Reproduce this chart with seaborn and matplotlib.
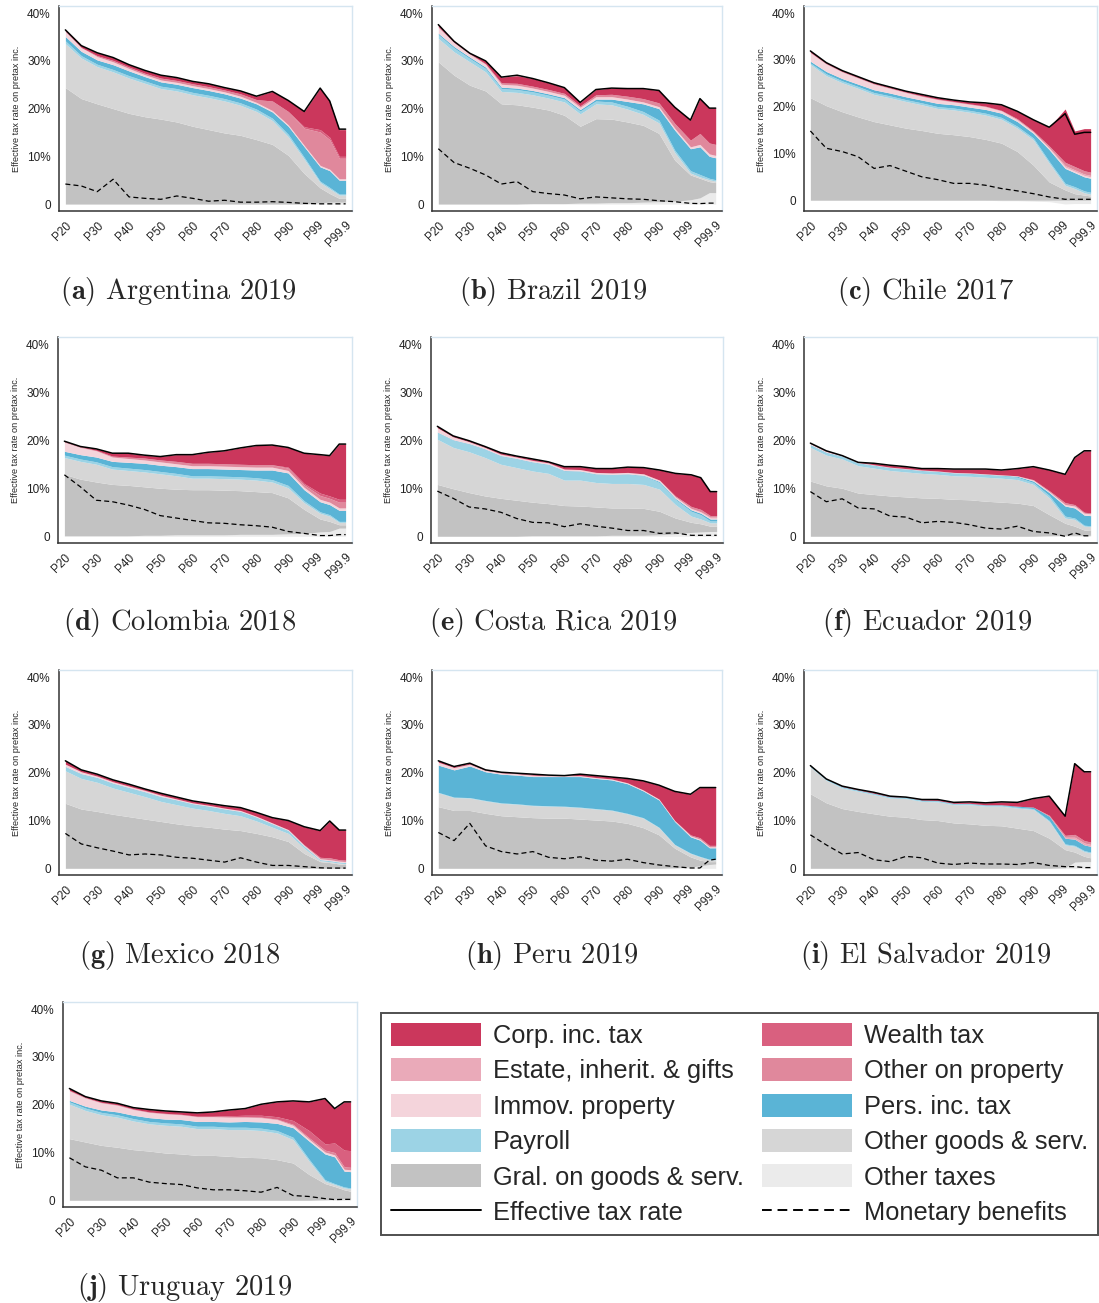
import matplotlib
matplotlib.use("Agg")
import matplotlib.pyplot as plt
import numpy as np
import seaborn as sns
from matplotlib.patches import Patch
from matplotlib.lines import Line2D

# percentile groups: P20..P95 by 5, then the top 1% split in finer groups
X = [20, 25, 30, 35, 40, 45, 50, 55, 60, 65, 70, 75, 80, 85, 90, 95, 100, 103, 106, 108]
TICK_POS = [20, 30, 40, 50, 60, 70, 80, 90, 99, 108]
TICK_LAB = ["P20", "P30", "P40", "P50", "P60", "P70", "P80", "P90", "P99", "P99.9"]

# stacking order, bottom to top
LAYERS = ["oth", "gral", "ogs", "pay", "pit", "immov", "estate", "oprop", "wealth", "cit"]
LABELS = {
    "cit": "Corp. inc. tax", "wealth": "Wealth tax",
    "estate": "Estate, inherit. & gifts", "oprop": "Other on property",
    "immov": "Immov. property", "pit": "Pers. inc. tax",
    "pay": "Payroll", "ogs": "Other goods & serv.",
    "gral": "Gral. on goods & serv.", "oth": "Other taxes",
}
COLORS = {
    "cit": "#CB375C", "wealth": "#D9607F", "estate": "#EAAAB9", "oprop": "#E0889C",
    "immov": "#F4D4DB", "pit": "#5AB4D6", "pay": "#9CD3E5", "ogs": "#D6D6D6",
    "gral": "#C2C2C2", "oth": "#EBEBEB",
}

Z = [0.0] * 20

argentina = dict(
    oth=[0] * 16 + [0.3, 0.4, 0.4, 0.4],
    gral=[24.4, 22.1, 21.0, 20.0, 19.0, 18.3, 17.8, 17.2, 16.3, 15.6, 14.9, 14.4, 13.5, 12.5, 10.2, 6.4, 3.1, 1.8, 0.8, 0.8],
    ogs=[9.2, 8.5, 7.8, 7.7, 7.4, 7.0, 6.4, 6.5, 6.6, 6.7, 6.7, 6.3, 5.9, 5.0, 3.9, 3.0, 1.1, 1.0, 0.7, 0.7],
    pay=[0.6, 0.5, 0.5, 0.5, 0.5, 0.5, 0.5, 0.5, 0.5, 0.5, 0.5, 0.5, 0.5, 0.5, 0.5, 0.4, 0.3, 0.3, 0.2, 0.2],
    pit=[0.9, 0.9, 0.9, 1.0, 1.0, 0.9, 0.9, 0.9, 1.0, 1.0, 1.0, 1.0, 1.1, 1.3, 1.7, 2.2, 3.0, 3.5, 2.9, 2.9],
    immov=[1.1, 0.8, 0.7, 0.6, 0.5, 0.4, 0.4, 0.4, 0.4, 0.4, 0.4, 0.4, 0.3, 0.3, 0.3, 0.3, 0.3, 0.3, 0.3, 0.3],
    oprop=[0.0, 0.0, 0.2, 0.3, 0.3, 0.3, 0.4, 0.4, 0.4, 0.4, 0.4, 0.5, 0.6, 2.0, 2.8, 3.6, 7.0, 6.2, 4.3, 4.3],
    wealth=[0] * 15 + [0.3, 0.5, 0.5, 0.4, 0.4],
    cit=[0.3, 0.4, 0.6, 0.6, 0.5, 0.6, 0.6, 0.6, 0.5, 0.6, 0.5, 0.6, 0.7, 2.0, 2.3, 3.2, 8.7, 7.6, 5.6, 5.6],
    etr=[36.5, 33.2, 31.7, 30.7, 29.2, 28.0, 27.0, 26.5, 25.7, 25.2, 24.4, 23.7, 22.6, 23.6, 21.7, 19.4, 24.3, 21.6, 15.7, 15.7],
    ben=[4.2, 3.8, 2.6, 5.2, 1.5, 1.2, 1.0, 1.7, 1.2, 0.6, 0.8, 0.4, 0.4, 0.5, 0.35, 0.15, 0.05, 0.05, 0.05, 0.05],
)

brazil = dict(
    oth=[0, 0, 0, 0, 0, 0, 0.1, 0.1, 0.1, 0.2, 0.2, 0.3, 0.3, 0.4, 0.5, 0.6, 0.9, 1.3, 2.4, 2.4],
    gral=[29.8, 27.0, 24.9, 23.7, 21.0, 20.8, 20.2, 19.6, 18.5, 16.1, 17.7, 17.5, 16.9, 16.1, 14.3, 8.6, 5.2, 4.1, 2.3, 2.1],
    ogs=[4.9, 4.9, 4.9, 4.0, 2.6, 2.6, 2.6, 2.5, 2.8, 2.6, 3.1, 3.0, 2.7, 2.3, 2.2, 1.6, 0.4, 0.3, 0.4, 0.3],
    pay=[0.8, 0.8, 0.7, 0.7, 0.6, 0.6, 0.6, 0.6, 0.6, 0.6, 0.6, 0.6, 0.6, 0.6, 0.6, 0.5, 0.5, 0.5, 0.3, 0.3],
    pit=[0.3, 0.3, 0.3, 0.3, 0.3, 0.3, 0.3, 0.3, 0.3, 0.3, 0.4, 0.6, 1.0, 1.6, 2.4, 4.2, 4.6, 5.8, 4.6, 4.6],
    immov=[1.2, 0.8, 0.6, 0.6, 0.6, 0.6, 0.5, 0.5, 0.5, 0.5, 0.5, 0.5, 0.5, 0.4, 0.4, 0.4, 0.4, 0.5, 0.5, 0.5],
    oprop=[0.2, 0.1, 0.1, 0.1, 0.3, 0.4, 0.4, 0.4, 0.4, 0.3, 0.4, 0.5, 0.6, 0.7, 0.8, 1.0, 1.4, 2.3, 2.3, 2.3],
    cit=[0.4, 0.2, 0.1, 0.6, 1.2, 1.6, 1.6, 1.4, 1.2, 0.7, 1.1, 1.3, 1.6, 2.1, 2.6, 3.4, 4.2, 7.3, 7.3, 7.6],
    etr=[37.6, 34.1, 31.6, 30.0, 26.6, 27.0, 26.3, 25.4, 24.4, 21.3, 24.0, 24.3, 24.2, 24.2, 23.8, 20.3, 17.6, 22.1, 20.1, 20.1],
    ben=[11.6, 8.7, 7.5, 6.1, 4.2, 4.7, 2.6, 2.2, 1.9, 1.1, 1.5, 1.3, 1.1, 1.0, 0.7, 0.5, 0.15, 0.1, 0.2, 0.2],
)

chile = dict(
    oth=[0] * 12 + [-0.1, -0.1, -0.2, -0.3, -0.8, -0.7, -0.7, -0.7],
    gral=[21.9, 20.2, 18.9, 17.8, 16.8, 16.1, 15.4, 14.9, 14.3, 14.0, 13.6, 13.0, 12.2, 10.4, 7.5, 3.9, 2.2, 1.4, 1.1, 0.9],
    ogs=[7.1, 6.4, 6.2, 6.1, 5.8, 5.8, 5.7, 5.5, 5.3, 5.3, 5.2, 5.2, 5.1, 5.0, 5.4, 4.0, 1.0, 1.1, 0.5, 0.4],
    pay=[0.3] + [0.4] * 19,
    pit=[0.4, 0.5, 0.5, 0.5, 0.6, 0.6, 0.6, 0.6, 0.7, 0.7, 0.7, 0.8, 0.9, 1.0, 1.0, 2.5, 3.2, 3.0, 3.0, 3.0],
    immov=[1.8, 1.6, 1.4, 1.3, 1.2, 1.0, 0.9, 0.8, 0.8, 0.6, 0.6, 0.6, 0.5, 0.4, 0.3, 0.3, 0.3, 0.3, 0.3, 0.3],
    estate=[0] * 15 + [0.1, 0.3, 0.3, 0.3, 0.3],
    oprop=[0.1] * 13 + [0.2, 0.2, 0.4, 0.7, 0.7, 0.7, 0.7],
    cit=[0.3, 0.2, 0.2, 0.2, 0.2, 0.2, 0.2, 0.3, 0.3, 0.3, 0.4, 0.7, 1.2, 1.6, 2.4, 4.0, 11.4, 7.6, 9.0, 9.3],
    etr=[31.9, 29.4, 27.7, 26.4, 25.1, 24.2, 23.3, 22.6, 21.9, 21.4, 21.0, 20.8, 20.4, 19.0, 17.2, 15.6, 18.5, 14.1, 14.5, 14.5],
    ben=[14.8, 11.1, 10.4, 9.3, 6.8, 7.4, 6.2, 5.0, 4.4, 3.6, 3.6, 3.2, 2.5, 2.0, 1.4, 0.7, 0.2, 0.2, 0.2, 0.2],
)

colombia = dict(
    oth=[0.1, 0.1, 0.1, 0.1, 0.1, 0.2, 0.2, 0.3, 0.3, 0.3, 0.3, 0.4, 0.4, 0.4, 0.5, 0.6, 0.9, 1.0, 1.7, 1.7],
    gral=[12.8, 11.8, 11.2, 10.7, 10.5, 10.1, 9.8, 9.5, 9.4, 9.4, 9.3, 9.1, 8.9, 8.7, 7.5, 5.0, 2.7, 2.1, 0.7, 0.7],
    ogs=[3.5, 3.7, 3.7, 3.2, 3.1, 3.1, 3.0, 2.8, 2.4, 2.4, 2.4, 2.4, 2.4, 2.2, 2.1, 1.4, 1.2, 1.1, 0.5, 0.5],
    pay=[0.5] * 15 + [0.4, 0.3, 0.3, 0.2, 0.2],
    pit=[0.8, 0.9, 1.0, 1.1, 1.2, 1.3, 1.3, 1.4, 1.5, 1.5, 1.5, 1.5, 1.6, 2.0, 2.6, 2.3, 2.1, 2.1, 2.3, 2.3],
    immov=[1.9, 1.5, 1.3, 0.9, 0.8, 0.7, 0.7, 0.6, 0.6, 0.6, 0.6, 0.6, 0.6, 0.6, 0.5, 0.5, 0.5, 0.5, 0.5, 0.5],
    oprop=[0.1, 0.1, 0.1, 0.2, 0.3, 0.4, 0.4, 0.5, 0.5, 0.5, 0.5, 0.5, 0.5, 0.5, 0.5, 0.5, 0.8, 0.8, 1.2, 1.2],
    wealth=[0] * 14 + [0.2, 0.3, 0.5, 0.5, 0.6, 0.6],
    cit=[0.1, 0.1, 0.3, 0.6, 0.8, 0.6, 0.7, 1.4, 1.8, 2.3, 2.7, 3.4, 4.0, 4.1, 4.1, 6.3, 8.0, 8.4, 11.5, 11.5],
    etr=[19.8, 18.7, 18.2, 17.3, 17.3, 16.9, 16.6, 17.0, 17.0, 17.5, 17.8, 18.4, 18.9, 19.0, 18.5, 17.3, 17.0, 16.8, 19.2, 19.2],
    ben=[12.8, 10.3, 7.5, 7.2, 6.5, 5.6, 4.3, 3.8, 3.3, 2.8, 2.7, 2.4, 2.2, 1.9, 1.0, 0.6, 0.15, 0.15, 0.35, 0.35],
)

costa_rica = dict(
    oth=[0, 0, 0, 0, 0, 0, 0.1, 0.1, 0.1, 0.1, 0.1, 0.2, 0.2, 0.2, 0.3, 0.5, 0.8, 0.9, 1.0, 1.0],
    gral=[10.8, 9.9, 9.1, 8.4, 7.9, 7.5, 7.0, 6.7, 6.3, 6.2, 6.0, 5.7, 5.7, 5.6, 4.9, 3.3, 2.1, 1.7, 1.1, 1.1],
    ogs=[9.4, 8.6, 8.5, 8.0, 7.1, 6.8, 6.5, 6.3, 5.3, 5.4, 5.1, 5.1, 5.1, 5.0, 4.6, 2.8, 1.3, 1.0, 0.7, 0.7],
    pay=[1.4, 1.5, 1.6, 1.7, 1.7, 1.8, 1.8, 1.8, 1.9, 1.8, 1.7, 1.8, 1.9, 1.8, 1.4, 1.1, 1.0, 0.9, 0.4, 0.4],
    pit=[0.1] * 14 + [0.2, 0.2, 0.3, 0.3, 0.4, 0.4],
    immov=[0.9, 0.6, 0.4, 0.3, 0.3, 0.3, 0.3, 0.3, 0.3, 0.3, 0.3, 0.3, 0.3, 0.3, 0.3, 0.3, 0.3, 0.3, 0.2, 0.2],
    estate=[0] * 18 + [0.2, 0.2],
    oprop=[0] * 15 + [0.2, 0.4, 0.5, 0.3, 0.3],
    cit=[0.3, 0.2, 0.2, 0.2, 0.3, 0.2, 0.3, 0.2, 0.5, 0.6, 0.8, 0.9, 1.1, 1.3, 2.1, 4.7, 6.6, 6.6, 5.0, 5.0],
    etr=[22.9, 20.9, 19.9, 18.7, 17.4, 16.7, 16.1, 15.5, 14.5, 14.5, 14.1, 14.1, 14.4, 14.3, 13.8, 13.1, 12.8, 12.2, 9.3, 9.3],
    ben=[9.4, 7.9, 6.1, 5.7, 5.0, 3.7, 2.9, 2.8, 2.0, 2.6, 2.1, 1.7, 1.2, 1.2, 0.6, 0.7, 0.2, 0.2, 0.2, 0.2],
)

ecuador = dict(
    oth=[0] * 15 + [0.1, 0.2, 0.2, 0.2, 0.2],
    gral=[11.5, 10.5, 10.0, 9.0, 8.7, 8.4, 8.2, 8.0, 7.9, 7.7, 7.6, 7.3, 7.1, 6.9, 6.4, 4.4, 2.5, 1.9, 1.1, 1.0],
    ogs=[7.0, 6.4, 6.1, 5.7, 5.5, 5.3, 5.2, 5.1, 5.0, 4.9, 4.9, 5.0, 5.0, 4.9, 4.4, 3.5, 1.1, 1.4, 0.8, 0.8],
    pay=[0.5] * 14 + [0.4, 0.5, 0.4, 0.3, 0.2, 0.2],
    pit=[0.1] * 13 + [0.2, 0.3, 0.6, 2.1, 2.1, 2.1, 2.1],
    immov=[0.2, 0.2, 0.1, 0.1, 0.1, 0.1, 0.1, 0.1, 0.1, 0.1, 0.1, 0.1, 0.1, 0.1, 0.2, 0.2, 0.3, 0.4, 0.4, 0.4],
    oprop=[0] * 14 + [0.1, 0.2, 0.4, 0.3, 0.2, 0.2],
    cit=[0.1, 0.1, 0.1, 0.1, 0.3, 0.4, 0.4, 0.3, 0.5, 0.7, 0.8, 1.0, 1.0, 1.5, 2.7, 4.3, 5.9, 9.8, 12.8, 12.9],
    etr=[19.4, 17.8, 16.8, 15.4, 15.2, 14.8, 14.5, 14.1, 14.1, 14.0, 14.0, 14.0, 13.8, 14.1, 14.5, 13.8, 12.9, 16.4, 17.8, 17.8],
    ben=[9.3, 7.2, 7.8, 5.9, 5.7, 4.2, 4.0, 2.8, 3.1, 2.9, 2.4, 1.7, 1.5, 2.1, 1.0, 0.7, 0.0, 0.7, 0.1, 0.1],
)

mexico = dict(
    gral=[13.6, 12.4, 11.9, 11.3, 10.8, 10.3, 9.8, 9.3, 8.9, 8.6, 8.2, 7.9, 7.3, 6.6, 5.6, 3.1, 1.4, 1.2, 0.9, 0.8],
    ogs=[6.8, 6.4, 6.1, 5.5, 5.1, 4.7, 4.2, 4.0, 3.7, 3.5, 3.3, 3.1, 2.6, 2.0, 1.7, 1.1, 0.2, 0.2, 0.2, 0.2],
    pay=[0.8, 0.9, 0.9, 0.9, 0.9, 0.9, 0.9, 0.9, 0.8, 0.8, 0.8, 0.8, 0.7, 0.6, 0.5, 0.3, 0.1, 0.1, 0.1, 0.1],
    pit=[0.1] * 20,
    immov=[0.5, 0.4, 0.3, 0.3, 0.3, 0.3, 0.3, 0.2, 0.2, 0.2, 0.2, 0.2, 0.2, 0.2, 0.2, 0.2, 0.2, 0.2, 0.2, 0.2],
    oprop=[0] * 15 + [0.1, 0.3, 0.4, 0.3, 0.3],
    cit=[0.7, 0.4, 0.4, 0.4, 0.4, 0.3, 0.4, 0.4, 0.4, 0.4, 0.5, 0.6, 0.8, 1.1, 1.9, 3.8, 5.6, 7.7, 6.2, 6.3],
    etr=[22.5, 20.6, 19.7, 18.5, 17.6, 16.6, 15.7, 14.9, 14.1, 13.6, 13.1, 12.7, 11.7, 10.6, 10.0, 8.7, 7.9, 9.9, 8.0, 8.0],
    ben=[7.3, 5.1, 4.3, 3.6, 2.8, 3.0, 2.8, 2.3, 2.1, 1.7, 1.3, 2.2, 1.3, 0.6, 0.6, 0.35, 0.1, 0.05, 0.05, 0.05],
)

peru = dict(
    oth=[0] * 15 + [0.1, 0.3, 0.5, 0.8, 0.9],
    gral=[12.9, 12.1, 12.1, 11.5, 11.0, 10.8, 10.6, 10.5, 10.5, 10.3, 10.1, 9.9, 9.4, 8.5, 7.0, 4.1, 2.1, 1.2, 0.6, 0.5],
    ogs=[2.9, 2.7, 2.6, 2.6, 2.6, 2.6, 2.5, 2.5, 2.4, 2.4, 2.3, 2.2, 2.0, 2.0, 1.5, 0.7, 0.7, 0.7, 0.4, 0.4],
    pay=[0.1] * 20,
    pit=[5.7, 5.7, 6.6, 6.0, 6.0, 6.0, 6.0, 6.1, 6.2, 6.4, 6.3, 6.3, 6.2, 5.6, 5.7, 4.8, 3.4, 3.4, 2.4, 2.4],
    immov=[0.6, 0.5, 0.4, 0.3, 0.3, 0.3, 0.3, 0.2, 0.2, 0.2, 0.2, 0.2, 0.2, 0.2, 0.2, 0.2, 0.2, 0.2, 0.2, 0.2],
    oprop=[0] * 16 + [0.2, 0.3, 0.3, 0.3],
    cit=[0.3, 0.2, 0.2, 0.1, 0.1, 0.1, 0.2, 0.1, 0.0, 0.3, 0.4, 0.4, 0.9, 1.9, 2.9, 6.1, 8.5, 10.5, 12.1, 12.1],
    etr=[22.5, 21.3, 22.0, 20.6, 20.1, 19.9, 19.7, 19.5, 19.4, 19.7, 19.4, 19.1, 18.8, 18.3, 17.4, 16.1, 15.5, 16.9, 16.9, 16.9],
    ben=[7.5, 5.8, 9.4, 4.7, 3.5, 3.0, 3.5, 2.3, 2.0, 2.4, 1.7, 1.5, 1.9, 1.2, 0.7, 0.35, 0.07, 0.07, 1.7, 1.9],
)

el_salvador = dict(
    oth=[0] * 16 + [0.1, 1.3, 1.4, 1.4],
    gral=[15.6, 13.7, 12.5, 11.9, 11.4, 10.9, 10.7, 10.2, 10.0, 9.5, 9.3, 9.0, 8.9, 8.4, 7.9, 6.3, 3.8, 2.1, 1.1, 0.8],
    ogs=[5.6, 4.7, 4.3, 4.2, 4.0, 3.8, 3.9, 3.8, 3.9, 3.8, 4.0, 4.0, 4.1, 4.2, 4.4, 3.5, 1.0, 1.2, 1.0, 1.0],
    pay=[0.2] * 20,
    pit=[0.1] * 13 + [0.2, 0.3, 0.9, 1.2, 1.3, 1.2, 1.2],
    estate=[0] * 16 + [0.2, 0.4, 0.4, 0.4],
    oprop=[0] * 15 + [0.2, 0.4, 0.6, 0.5, 0.5],
    cit=[0.0, 0.0, 0.1, 0.1, 0.2, 0.1, 0.0, 0.1, 0.2, 0.2, 0.3, 0.4, 0.6, 0.8, 1.8, 4.0, 4.0, 14.8, 14.4, 14.7],
    etr=[21.5, 18.7, 17.2, 16.5, 15.9, 15.1, 14.9, 14.4, 14.4, 13.8, 13.9, 13.7, 13.9, 13.8, 14.6, 15.1, 10.9, 21.9, 20.2, 20.2],
    ben=[7.0, 4.9, 3.0, 3.3, 1.8, 1.4, 2.5, 2.2, 1.1, 0.8, 1.1, 0.9, 0.9, 0.8, 1.2, 0.6, 0.35, 0.35, 0.15, 0.15],
)

uruguay = dict(
    oth=[0] * 16 + [0.1, 0.2, 0.3, 0.3],
    gral=[12.9, 12.2, 11.5, 11.1, 10.6, 10.3, 9.9, 9.7, 9.4, 9.4, 9.2, 9.0, 8.9, 8.5, 7.8, 5.4, 3.4, 2.7, 1.9, 1.6],
    ogs=[7.2, 6.6, 6.4, 6.3, 6.0, 5.7, 5.8, 5.8, 5.6, 5.6, 5.6, 5.8, 5.7, 5.6, 4.9, 2.8, 0.5, 0.4, 0.4, 0.5],
    pay=[0.5] * 15 + [0.4, 0.3, 0.2, 0.2, 0.2],
    pit=[0.3, 0.4, 0.5, 0.6, 0.7, 0.8, 0.8, 0.9, 1.0, 1.0, 1.1, 1.2, 1.3, 1.5, 2.0, 3.8, 5.4, 5.6, 3.3, 3.4],
    immov=[2.0, 1.7, 1.5, 1.4, 1.2, 1.1, 1.1, 1.0, 1.0, 1.0, 1.0, 0.9, 0.9, 0.8, 0.5, 0.4, 0.4, 0.4, 0.4, 0.4],
    oprop=[0.1] * 14 + [0.2, 0.3, 0.4, 0.5, 0.5, 0.5],
    wealth=[0] * 10 + [0.2, 0.3, 0.4, 0.5, 0.8, 1.5, 1.3, 2.0, 3.5, 3.5],
    cit=[0.4, 0.2, 0.3, 0.3, 0.3, 0.5, 0.5, 0.5, 0.7, 0.9, 1.2, 1.4, 2.3, 3.1, 4.1, 6.0, 9.5, 7.2, 10.1, 10.2],
    etr=[23.4, 21.7, 20.8, 20.3, 19.4, 19.0, 18.7, 18.5, 18.3, 18.5, 18.9, 19.2, 20.1, 20.6, 20.8, 20.6, 21.3, 19.2, 20.6, 20.6],
    ben=[8.9, 7.0, 6.3, 4.7, 4.7, 3.8, 3.5, 3.3, 2.6, 2.2, 2.2, 2.0, 1.7, 2.7, 1.0, 0.8, 0.35, 0.15, 0.2, 0.2],
)

# (letter, caption, data, axes box in px: left, top, right, bottom, caption centre x, caption y, ymin)
PANELS = [
    ("a", "Argentina 2019", argentina, (59, 6, 352, 211), 178, 291, -1.45),
    ("b", "Brazil 2019", brazil, (432, 6, 722, 211), 553, 291, -1.45),
    ("c", "Chile 2017", chile, (804, 6, 1097, 211), 926, 291, -2.3),
    ("d", "Colombia 2018", colombia, (58, 337, 352, 543), 180, 623, -1.4),
    ("e", "Costa Rica 2019", costa_rica, (431, 337, 723, 543), 553, 623, -1.4),
    ("f", "Ecuador 2019", ecuador, (804, 337, 1097, 543), 927, 623, -1.4),
    ("g", "Mexico 2018", mexico, (59, 670, 352, 875), 180, 955, -1.4),
    ("h", "Peru 2019", peru, (432, 670, 722, 875), 552, 955, -1.4),
    ("i", "El Salvador 2019", el_salvador, (804, 670, 1097, 875), 926, 955, -1.4),
    ("j", "Uruguay 2019", uruguay, (63, 1002, 357, 1207), 185, 1287, -1.4),
]

W, H = 1099, 1303

sns.set_style("white")
plt.rcParams["font.family"] = ["Liberation Sans", "DejaVu Sans"]
plt.rcParams["mathtext.fontset"] = "cm"

LEG_SIZE = 18.3


def draw_panel(ax, d, ymin):
    x = np.array(X, dtype=float)
    pos = np.zeros(len(X))
    neg = np.zeros(len(X))
    for k in LAYERS:
        v = np.array(d.get(k, Z), dtype=float)
        p = np.clip(v, 0, None)
        n = np.clip(v, None, 0)
        if p.any():
            ax.fill_between(x, pos, pos + p, color=COLORS[k], lw=0)
            pos += p
        if n.any():
            ax.fill_between(x, neg, neg + n, color=COLORS[k], lw=0)
            neg += n
    sns.lineplot(x=X, y=d["etr"], ax=ax, color="black", lw=1.1)
    sns.lineplot(x=X, y=d["ben"], ax=ax, color="black", lw=0.9, linestyle=(0, (4, 2.5)))

    ax.set_xlim(18, 110)
    ax.set_ylim(ymin, 41.5)
    ax.set_yticks([0, 10, 20, 30, 40])
    ax.set_yticklabels(["0", "10%", "20%", "30%", "40%"])
    ax.set_xticks(TICK_POS)
    ax.set_xticklabels(TICK_LAB, rotation=45, ha="right", rotation_mode="anchor")
    for s in ["top", "right"]:
        ax.spines[s].set_color("#D5E5F0")
        ax.spines[s].set_linewidth(1.0)
    for s in ["left", "bottom"]:
        ax.spines[s].set_color("#333333")
        ax.spines[s].set_linewidth(1.1)
    ax.tick_params(axis="both", direction="out", length=4, width=1, labelsize=8.5,
                   colors="#333333", labelcolor="#222222", pad=2)
    ax.set_ylabel("Effective tax rate on pretax inc.", fontsize=6.6, labelpad=4)
    ax.set_xlabel("")


fig = plt.figure(figsize=(W / 100, H / 100), dpi=100)

for letter, name, data, (l, t, r, b), cx, cy, ymin in PANELS:
    ax = fig.add_axes([l / W, 1 - b / H, (r - l) / W, (b - t) / H])
    draw_panel(ax, data, ymin)
    fig.text(cx / W, 1 - cy / H, r"$\mathbf{(" + letter + r")}$ " + name,
             ha="center", va="center", fontsize=20.5, family="cmr10")

handles = []
for k in ["cit", "estate", "immov", "pay", "gral"]:
    handles.append(Patch(facecolor=COLORS[k], edgecolor="none", label=LABELS[k]))
handles.append(Line2D([], [], color="black", lw=1.4, label="Effective tax rate"))
for k in ["wealth", "oprop", "pit", "ogs", "oth"]:
    handles.append(Patch(facecolor=COLORS[k], edgecolor="none", label=LABELS[k]))
handles.append(Line2D([], [], color="black", lw=1.4, linestyle=(0, (5, 3)), label="Monetary benefits"))

em = LEG_SIZE * 100 / 72
leg = fig.legend(handles=handles, loc="upper left",
                 bbox_to_anchor=(381 / W, 1 - 1233 / H, 717 / W, 220 / H), mode="expand",
                 ncol=2, frameon=True, fancybox=False, edgecolor="#222222",
                 prop={"size": LEG_SIZE},
                 handlelength=90 / em, handleheight=26 / em, handletextpad=12 / em,
                 labelspacing=0.40, columnspacing=0.5, borderpad=0.38, borderaxespad=0)
leg.get_frame().set_linewidth(1.4)

fig.savefig("out.png", dpi=100)
